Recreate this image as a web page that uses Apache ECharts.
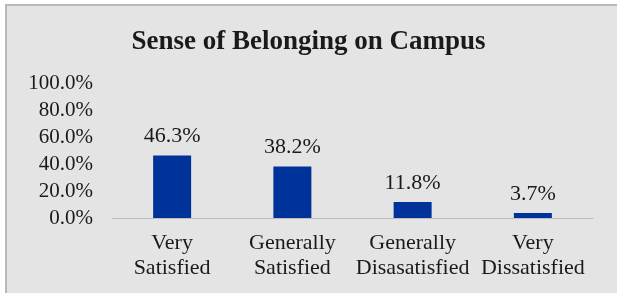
<!DOCTYPE html>
<html>
<head>
<meta charset="utf-8">
<script src="https://cdn.jsdelivr.net/npm/echarts@6/dist/echarts.min.js"></script>
<style>
  html, body { margin: 0; padding: 0; background: #fff; }
  #chart { width: 617px; height: 293px; }
</style>
</head>
<body>
<div id="chart"></div>
<script>
// bar chart: sense of belonging
let categories = ['Very\nSatisfied', 'Generally\nSatisfied', 'Generally\nDisasatisfied', 'Very\nDissatisfied'];
let values = [46.3, 38.2, 11.8, 3.7];
let yTicks = [0, 20, 40, 60, 80, 100];

let chartDom = document.getElementById('chart');
let myChart = echarts.init(chartDom);
let font = '"Liberation Serif", "Times New Roman", serif';

let option = {
  backgroundColor: '#fff',
  animation: false,
  graphic: [{
    type: 'rect',
    z: -10,
    shape: { x: 6, y: 5, width: 640, height: 320 },
    style: { fill: '#e4e4e4', stroke: '#b9b9b9', lineWidth: 2 }
  }],
  title: {
    text: 'Sense of Belonging on Campus',
    left: 'center',
    top: 24,
    textStyle: {
      fontFamily: font,
      fontWeight: 'bold',
      fontSize: 27,
      color: '#1a1a1a'
    }
  },
  grid: {
    left: 112,
    right: 24,
    top: 83,
    bottom: 75,
    containLabel: false
  },
  xAxis: {
    type: 'category',
    data: categories,
    axisLine: { lineStyle: { color: '#bdbdbd', width: 1 } },
    axisTick: { show: false },
    axisLabel: {
      fontFamily: font,
      fontSize: 22,
      color: '#1a1a1a',
      lineHeight: 25,
      margin: 13,
      interval: 0
    }
  },
  yAxis: {
    type: 'value',
    min: yTicks[0],
    max: yTicks[yTicks.length - 1],
    interval: 20,
    splitLine: { show: false },
    axisLine: { show: false },
    axisTick: { show: false },
    axisLabel: {
      fontFamily: font,
      fontSize: 21,
      color: '#1a1a1a',
      margin: 19,
      formatter: function (v) { return v.toFixed(1) + '%'; }
    }
  },
  series: [{
    type: 'bar',
    data: values,
    barWidth: 38,
    itemStyle: { color: '#003399' },
    label: {
      show: true,
      position: 'top',
      distance: 8,
      fontFamily: font,
      fontSize: 22,
      color: '#1a1a1a',
      formatter: function (p) { return p.value.toFixed(1) + '%'; }
    }
  }]
};

myChart.setOption(option);
window.addEventListener('resize', () => {
  myChart.resize();
});
</script>
</body>
</html>
